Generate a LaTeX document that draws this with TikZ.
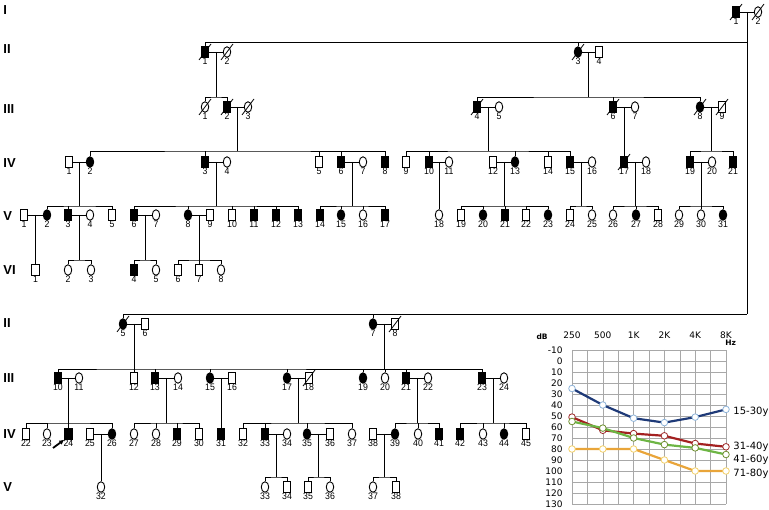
\documentclass[tikz,border=0pt]{standalone}
\usepackage{fontspec}
\setmainfont{Liberation Sans}
\newfontfamily\pedfont[FakeStretch=0.92]{Liberation Sans}
\newfontfamily\audfont{DejaVu Sans}
\usepackage{tikz}
\usetikzlibrary{arrows.meta, shapes.geometric, calc}
\definecolor{navy}{HTML}{1F3A78}
\definecolor{navymk}{HTML}{8DB3D9}
\definecolor{brick}{HTML}{A32020}
\definecolor{brickmk}{HTML}{9E2A2A}
\definecolor{leaf}{HTML}{6DB544}
\definecolor{leafmk}{HTML}{6E8F30}
\definecolor{gold}{HTML}{E9A53A}
\definecolor{goldmk}{HTML}{F3D16A}
\definecolor{gridg}{HTML}{A8A8A8}
\tikzset{
  pers/.style={draw, line width=0.9pt, minimum width=7.5pt, minimum height=10.5pt,
               inner sep=0pt, fill=white, label distance=3pt},
  mal/.style={pers, rectangle},
  malA/.style={mal, fill=black},
  fem/.style={pers, ellipse},
  femA/.style={fem, fill=black},
  num/.style={font=\pedfont\fontsize{9.5}{10}\selectfont, inner sep=0pt},
  gen/.style={font=\fontsize{13}{14}\selectfont\bfseries, anchor=west, inner sep=0pt},
  dead/.style={line width=0.8pt},
  prob/.style={-{Latex[length=5pt, width=5pt]}, line width=1.8pt},
  audgrid/.style={draw=gridg, line width=0.6pt},
  dbnum/.style={anchor=east, inner sep=0pt, font=\audfont\fontsize{9}{10}\selectfont},
  hz/.style={inner sep=0pt, font=\audfont\fontsize{9}{10}\selectfont},
  unit/.style={inner sep=0pt, font=\audfont\bfseries\fontsize{7.5}{8}\selectfont},
  age/.style={anchor=west, inner sep=0pt, font=\audfont\fontsize{10}{11}\selectfont},
  curve/.style={line width=2.2pt, mark=*, mark size=3.3pt,
                mark options={fill=white, line width=0.8pt, draw=#1}},
}

\begin{document}
\begin{tikzpicture}[x=1pt, y=-1pt, line width=0.8pt]
  \useasboundingbox (0,0) rectangle (769,510);

  % generation labels
  \foreach \t/\y [count=\k] in {I/10, II/49, III/109, IV/163, V/216, VI/270,
                                II/323, III/378, IV/434, V/487}
    \node[gen] (g\k) at (3,\y) {\t};

  % persons, one row at a time
  \foreach \x/\n/\s in {736/1/malA, 758/2/fem}
    \node[\s, label={[num]below:\n}] (i\n) at (\x,12) {};
  \foreach \x/\n/\s in {205/1/malA, 227/2/fem, 578/3/femA, 599/4/mal}
    \node[\s, label={[num]below:\n}] (ii\n) at (\x,52) {};
  \foreach \x/\n/\s in {123/5/femA, 145/6/mal, 373/7/femA, 395/8/mal}
    \node[\s, label={[num]below:\n}] (ii\n) at (\x,324) {};
  \foreach \x/\n/\s in {205/1/fem, 227/2/malA, 248/3/fem, 477/4/malA, 499/5/fem,
                        613/6/malA, 635/7/fem, 700/8/femA, 722/9/mal}
    \node[\s, label={[num]below:\n}] (iii\n) at (\x,107) {};
  \foreach \x/\n/\s in {58/10/malA, 79/11/fem, 134/12/mal, 155/13/malA, 178/14/fem,
                        210/15/femA, 232/16/mal, 287/17/femA, 309/18/mal, 363/19/femA,
                        385/20/fem, 406/21/malA, 428/22/fem, 482/23/malA, 504/24/fem}
    \node[\s, label={[num]below:\n}] (iii\n) at (\x,378) {};
  \foreach \x/\n/\s in {69/1/mal, 90/2/femA, 205/3/malA, 227/4/fem, 319/5/mal,
                        341/6/malA, 363/7/fem, 385/8/malA, 406/9/mal, 429/10/malA,
                        449/11/fem, 493/12/mal, 515/13/femA, 548/14/mal, 570/15/malA,
                        592/16/fem, 624/17/malA, 646/18/fem, 690/19/malA, 712/20/fem,
                        733/21/malA}
    \node[\s, label={[num]below:\n}] (iv\n) at (\x,162) {};
  \foreach \x/\n/\s in {26/22/mal, 47/23/fem, 68.5/24/malA, 90/25/mal, 112/26/femA,
                        134/27/fem, 156/28/fem, 177/29/malA, 199/30/mal, 221/31/malA,
                        243/32/mal, 265/33/malA, 287/34/fem, 307/35/femA, 330/36/mal,
                        352/37/fem, 373/38/mal, 395/39/femA, 418/40/fem, 439/41/malA,
                        460/42/malA, 483/43/fem, 504/44/femA, 526/45/mal}
    \node[\s, label={[num]below:\n}] (iv\n) at (\x,434) {};
  \foreach \x/\n/\s in {24/1/mal, 47/2/femA, 68/3/malA, 90/4/fem, 112/5/mal,
                        134/6/malA, 156/7/fem, 188/8/femA, 210/9/mal, 232/10/mal,
                        254/11/malA, 276/12/malA, 298/13/malA, 320/14/malA, 341/15/femA,
                        363/16/fem, 385/17/malA, 439/18/fem, 461/19/mal, 483/20/femA,
                        505/21/malA, 526/22/mal, 548/23/femA, 570/24/mal, 592/25/fem,
                        613/26/fem, 636/27/femA, 658/28/mal, 679/29/fem, 701/30/fem,
                        723/31/femA}
    \node[\s, label={[num]below:\n}] (v\n) at (\x,215) {};
  \foreach \x/\n/\s in {101/32/fem, 265/33/fem, 287/34/mal, 308/35/mal, 330/36/fem,
                        373/37/fem, 396/38/mal}
    \node[\s, label={[num]below:\n}] (v\n) at (\x,487) {};
  \foreach \x/\n/\s in {35.5/1/mal, 68/2/fem, 91/3/fem, 134/4/malA, 156/5/fem,
                        178/6/mal, 199/7/mal, 221/8/fem}
    \node[\s, label={[num]below:\n}] (vi\n) at (\x,270) {};

  % deceased
  \foreach \p in {i1, i2, ii1, ii2, ii3, ii5, ii8, iii1, iii2, iii3, iii4, iii6,
                  iii8, iii9, iii18, iv17}
    \draw[dead] ([shift={(-6pt,-8pt)}]\p.center) -- ([shift={(6pt,8pt)}]\p.center);

  % couples
  \foreach \a/\b in {i1/i2, ii1/ii2, ii3/ii4, ii5/ii6, ii7/ii8, iii2/iii3, iii4/iii5,
                     iii6/iii7, iii8/iii9, iii10/iii11, iii13/iii14, iii15/iii16,
                     iii17/iii18, iii21/iii22, iii23/iii24, iv1/iv2, iv3/iv4, iv6/iv7,
                     iv10/iv11, iv12/iv13, iv15/iv16, iv17/iv18, iv19/iv20, iv25/iv26,
                     iv33/iv34, iv35/iv36, iv38/iv39, v1/v2, v3/v4, v6/v7, v8/v9}
    \draw (\a) -- (\b);

  % founders' line
  \coordinate (topI) at (747,42);
  \coordinate (lowI) at (747,314);
  \draw ($(i1)!.5!(i2)$) -- (lowI);
  \draw (ii1.north) |- (topI);
  \draw (ii3.north) -- (ii3.north |- topI);
  \draw (ii5.north) |- (lowI);
  \draw (ii7.north) -- (ii7.north |- lowI);

  % sibships
  \foreach \a/\b/\bx/\by/\f/\l/\mids in {
      ii1/ii2/216/97/iii1/iii2/iii1,
      ii3/ii4/588.5/97/iii4/iii8/iii6,
      iii2/iii3/237.5/151/iv2/iv8/{iv3,iv5,iv6},
      iii4/iii5/488/151/iv9/iv15/{iv10,iv13,iv14},
      iii8/iii9/711/151/iv19/iv21/iv19,
      iv1/iv2/79.5/206/v2/v5/v3,
      iv3/iv4/216/206/v6/v13/{v8,v10,v11,v12},
      iv6/iv7/352/206/v14/v17/{v15,v16},
      iv12/iv13/504/206/v19/v23/{v20,v21,v22},
      iv15/iv16/581/206/v24/v25/v24,
      iv17/iv18/635/206/v26/v28/v27,
      iv19/iv20/701/206/v29/v31/v30,
      v3/v4/79/260/vi2/vi3/vi2,
      v6/v7/145/260/vi4/vi5/vi4,
      v8/v9/199/260/vi6/vi8/vi7,
      ii5/ii6/134/369/iii10/iii23/{iii12,iii13,iii15,iii17,iii19,iii20,iii21},
      iii10/iii11/68.5/423/iv22/iv26/{iv23,iv24},
      iii13/iii14/166.5/423/iv27/iv30/{iv28,iv29},
      iii17/iii18/298/423/iv32/iv37/{iv33,iv35},
      iii21/iii22/417/423/iv39/iv41/iv40,
      iii23/iii24/493/423/iv42/iv45/{iv43,iv44},
      iv33/iv34/276/477/v33/v34/v33,
      iv35/iv36/318.5/477/v35/v36/v35,
      iv38/iv39/384/477/v37/v38/v37}{
    \coordinate (bar) at (\bx,\by);
    \draw ($(\a)!.5!(\b)$) -- (bar);
    \draw (\f.north) |- (bar) -| (\l.north);
    \foreach \m in \mids \draw (\m.north) -- (\m.north |- bar);
  }
  \coordinate (barII7) at (384,369);
  \draw ($(ii7)!.5!(ii8)$) -- (barII7);

  % only children
  \foreach \a/\b/\c in {v1/v2/vi1, iii6/iii7/iv17, iv10/iv11/v18, iii15/iii16/iv31,
                        iv25/iv26/v32}
    \draw ($(\a)!.5!(\b)$) -- (\c.north);

  % proband
  \coordinate (pb) at (53,448);
  \draw[prob] (pb) -- (iv24.south west);

  % audiogram
  \begin{scope}[shift={(572,361)}, x=30.8pt, y=-1.1pt]
    \foreach \i in {0,0.5,...,5} \draw[audgrid] (\i,-10) -- (\i,130);
    \foreach \d [count=\k] in {-10,0,...,130} {
      \draw[audgrid] (0,\d) -- (5,\d);
      \node[dbnum] (db\k) at (-0.29,\d) {\d};
    }
    \foreach \f [count=\k from 0] in {250,500,1K,2K,4K,8K}
      \node[hz] (f\k) at (\k,-23.6) {\f};
    \node[unit] (dbt) at (-0.97,-22.5) {dB};
    \node[unit] (hzt) at (5.15,-16.5) {Hz};

    \draw[brick, curve=brickmk] plot coordinates {(0,51) (1,63) (2,66) (3,68) (4,75) (5,78)};
    \draw[leaf, curve=leafmk] plot coordinates {(0,55) (1,61) (2,70) (3,76) (4,79) (5,85)};
    \draw[gold, curve=goldmk] plot coordinates {(0,80) (1,80) (2,80) (3,90) (4,100) (5,100)};
    \draw[navy, curve=navymk] plot coordinates {(0,25) (1,40) (2,52) (3,56) (4,51) (5,44)};

    \node[age] (a1) at (5.23,46.4) {15-30y};
    \node[age] (a2) at (5.23,78.2) {31-40y};
    \node[age] (a3) at (5.23,90) {41-60y};
    \node[age] (a4) at (5.23,102.7) {71-80y};
  \end{scope}
\end{tikzpicture}
\end{document}
